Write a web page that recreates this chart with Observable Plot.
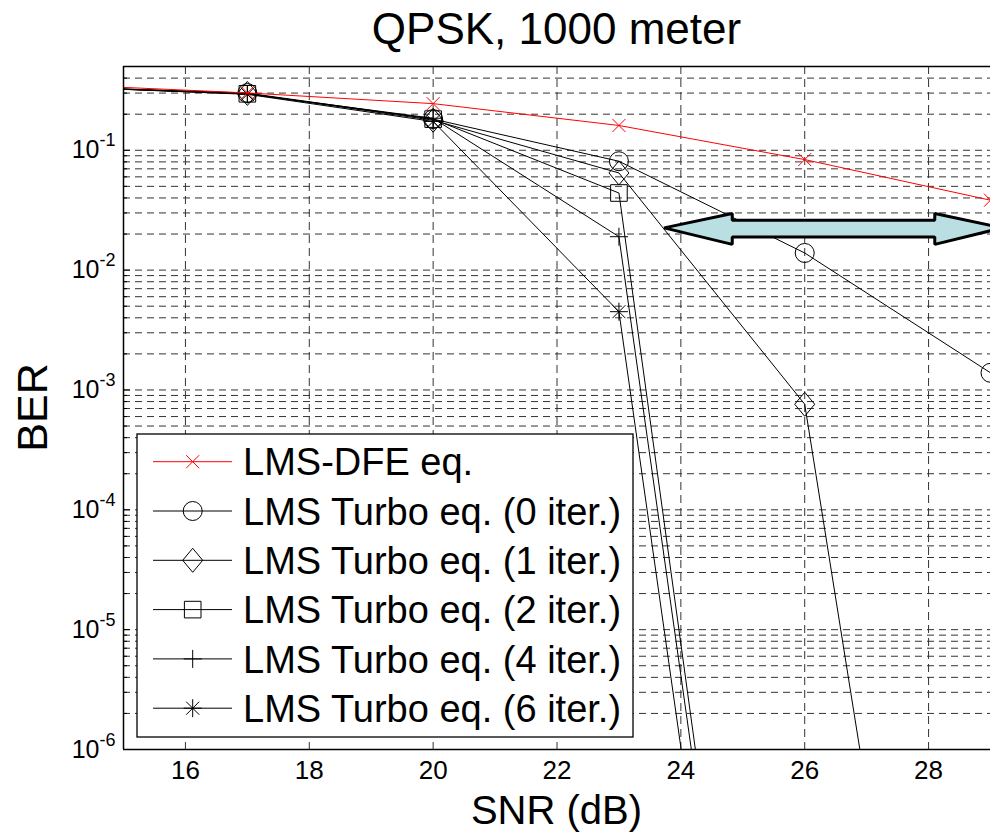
<!DOCTYPE html>
<html><head><meta charset="utf-8">
<script src="https://cdn.jsdelivr.net/npm/d3@7"></script>
<script src="https://cdn.jsdelivr.net/npm/@observablehq/plot@0.6"></script>
<style>
body{margin:0;background:#fff;font-family:"Liberation Sans",Arial,sans-serif;}
#title{height:56px;padding-left:123px;text-align:center;font-size:44px;line-height:58px;color:#000;white-space:nowrap;}
#chart svg{font-family:"Liberation Sans",Arial,sans-serif;}
</style></head><body>
<div id="title">QPSK, 1000 meter</div>
<div id="chart"></div>
<script>
// ---- data ----
const snr = [14, 17, 20, 23, 26, 29];
const seriesNames = ["LMS-DFE eq.", "LMS Turbo eq. (0 iter.)", "LMS Turbo eq. (1 iter.)",
  "LMS Turbo eq. (2 iter.)", "LMS Turbo eq. (4 iter.)", "LMS Turbo eq. (6 iter.)"];
const berDFE    = [0.353, 0.301, 0.245, 0.161, 0.0836, 0.0383];
const berTurbo0 = [0.338, 0.300, 0.182, 0.081, 0.0139, 0.00139];
const berTurbo1 = [0.338, 0.298, 0.178, 0.0647, 0.00076, 1.5e-13];
const berTurbo2 = [0.338, 0.296, 0.182, 0.044, 2.3e-13];
const berTurbo4 = [0.338, 0.295, 0.185, 0.019, 2.0e-13];
const berTurbo6 = [0.338, 0.293, 0.174, 0.0045, 5.6e-14];
const xTicks = [16, 18, 20, 22, 24, 26, 28];
const yDecades = [-6, -5, -4, -3, -2, -1];
const yTickLabels = ["10^-6", "10^-5", "10^-4", "10^-3", "10^-2", "10^-1"];
const xLabel = "SNR (dB)";
const yLabel = "BER";
// double-headed arrow annotation (SNR, BER)
const arrowX = [23.73, 24.83, 24.83, 28.10, 28.10, 29.19, 28.10, 28.10, 24.83, 24.83, 23.73];
const arrowY = [0.0225, 0.0297, 0.0261, 0.0261, 0.0297, 0.0225, 0.0164, 0.0189, 0.0189, 0.0164, 0.0225];

// ---- marker symbols (MATLAB style) ----
const rad = s => Math.sqrt(s / Math.PI);
const symX = {draw(c, s){const r = rad(s); c.moveTo(-r,-r); c.lineTo(r,r); c.moveTo(-r,r); c.lineTo(r,-r);}};
const symO = {draw(c, s){const r = rad(s); c.moveTo(r,0); c.arc(0,0,r,0,2*Math.PI);}};
const symD = {draw(c, s){const r = rad(s); c.moveTo(0,-1.2*r); c.lineTo(r,0); c.lineTo(0,1.2*r); c.lineTo(-r,0); c.closePath();}};
const symS = {draw(c, s){const r = rad(s); c.moveTo(-r,-r); c.lineTo(r,-r); c.lineTo(r,r); c.lineTo(-r,r); c.closePath();}};
const symP = {draw(c, s){const r = rad(s); c.moveTo(-r,0); c.lineTo(r,0); c.moveTo(0,-r); c.lineTo(0,r);}};
const symStar = {draw(c, s){const r = rad(s); const d = r*0.72; c.moveTo(-r,0); c.lineTo(r,0); c.moveTo(0,-r); c.lineTo(0,r); c.moveTo(-d,-d); c.lineTo(d,d); c.moveTo(-d,d); c.lineTo(d,-d);}};

const seriesValues = [berDFE, berTurbo0, berTurbo1, berTurbo2, berTurbo4, berTurbo6];
const seriesColor = ["#ff0000", "#000", "#000", "#000", "#000", "#000"];
const seriesSymbol = [symX, symO, symD, symS, symP, symStar];
const seriesR = [6.5, 9.5, 10, 8.3, 9, 9];

const series = seriesNames.map((name, i) => ({
  name, color: seriesColor[i], symbol: seriesSymbol[i], r: seriesR[i],
  rows: seriesValues[i].map((v, j) => ({snr: snr[j], ber: v}))
}));

const gridVals = [];
for (const d of yDecades) for (let k = 1; k <= 9; k++) { const v = k * Math.pow(10, d); if (v < 0.5) gridVals.push(v); }
const majorVals = yDecades.map(d => Math.pow(10, d));
const arrow = arrowX.map((x, i) => ({x, y: arrowY[i]}));

const W = 990, H = 782, mL = 123, mR = 0, mT = 10, mB = 89;
const frameW = W - mL - mR;

const seriesMarks = s => [
  Plot.line(s.rows, {x: "snr", y: "ber", stroke: s.color, strokeWidth: 1, clip: true}),
  Plot.dot(s.rows, {x: "snr", y: "ber", symbol: s.symbol, r: s.r, stroke: s.color, fill: "none", strokeWidth: 1, clip: true})
];

const chart = Plot.plot({
  width: W, height: H, marginLeft: mL, marginRight: mR, marginTop: mT, marginBottom: mB,
  style: {fontFamily: "'Liberation Sans', Arial, sans-serif", background: "#fff", color: "#000"},
  x: {domain: [15, 29]},
  y: {type: "log", domain: [1e-6, 0.5]},
  marks: [
    Plot.gridY(gridVals, {stroke: "#333", strokeOpacity: 1, strokeWidth: 1, strokeDasharray: "7,5"}),
    Plot.gridX(xTicks, {stroke: "#333", strokeOpacity: 1, strokeWidth: 1, strokeDasharray: "8,5"}),
    Plot.tickY(majorVals, {insetRight: frameW - 7, stroke: "#000"}),
    Plot.tickY(gridVals.filter(v => !majorVals.includes(v)), {insetRight: frameW - 4, stroke: "#000"}),
    ...series.slice(1).flatMap(seriesMarks),
    Plot.line(arrow, {x: "x", y: "y", fill: "#b9dfe3", stroke: "#000", strokeWidth: 3, strokeLinejoin: "miter", curve: "linear-closed"}),
    ...seriesMarks(series[0]),
    Plot.ruleX([15], {stroke: "#000", strokeWidth: 1.5}),
    Plot.ruleY([0.5, 1e-6], {stroke: "#000", strokeWidth: 1.5}),
    Plot.axisX(xTicks, {tickSize: 0, tickPadding: 11, fontSize: 26, label: null}),
    Plot.axisY(majorVals, {tickSize: 0, tickPadding: 8, fontSize: 25, label: null,
      tickFormat: v => yTickLabels[majorVals.indexOf(v)]})
  ]
});

const svg = d3.select(chart.tagName === "svg" ? chart : chart.querySelector("svg"));
// superscript exponents on the y tick labels
svg.selectAll('g[aria-label="y-axis tick label"] text').each(function () {
  const t = this.textContent; const parts = t.split("^");
  if (parts.length !== 2) return;
  const sel = d3.select(this); sel.text(parts[0]);
  sel.append("tspan").attr("dy", -12).attr("font-size", 18).text(parts[1]);
});

// axis titles
svg.append("text").attr("x", mL + frameW / 2).attr("y", 754).attr("text-anchor", "middle")
  .attr("dominant-baseline", "central").attr("font-size", 40).attr("fill", "#000").text(xLabel);
svg.append("text").attr("transform", `translate(32,${(mT + H - mB) / 2}) rotate(-90)`).attr("text-anchor", "middle")
  .attr("dominant-baseline", "central").attr("font-size", 43).attr("fill", "#000").text(yLabel);

// legend (inside plot, as in the reference)
const lg = svg.append("g").attr("text-anchor", "start");
lg.append("rect").attr("x", 137).attr("y", 378).attr("width", 496).attr("height", 303)
  .attr("fill", "#fff").attr("stroke", "#000").attr("stroke-width", 1.3);
series.forEach((s, i) => {
  const y = 405.7 + i * 49.3;
  lg.append("line").attr("x1", 153).attr("x2", 232).attr("y1", y).attr("y2", y).attr("stroke", s.color).attr("stroke-width", 1);
  lg.append("path").attr("transform", `translate(192.7,${y})`)
    .attr("d", d3.symbol(s.symbol, s.r * s.r * Math.PI)())
    .attr("fill", "none").attr("stroke", s.color).attr("stroke-width", 1);
  lg.append("text").attr("x", 243).attr("y", y + 13.6).attr("font-size", 38).attr("fill", "#000")
    .attr("text-anchor", "start").text(s.name);
});

document.getElementById("chart").appendChild(chart);
</script>
</body></html>
